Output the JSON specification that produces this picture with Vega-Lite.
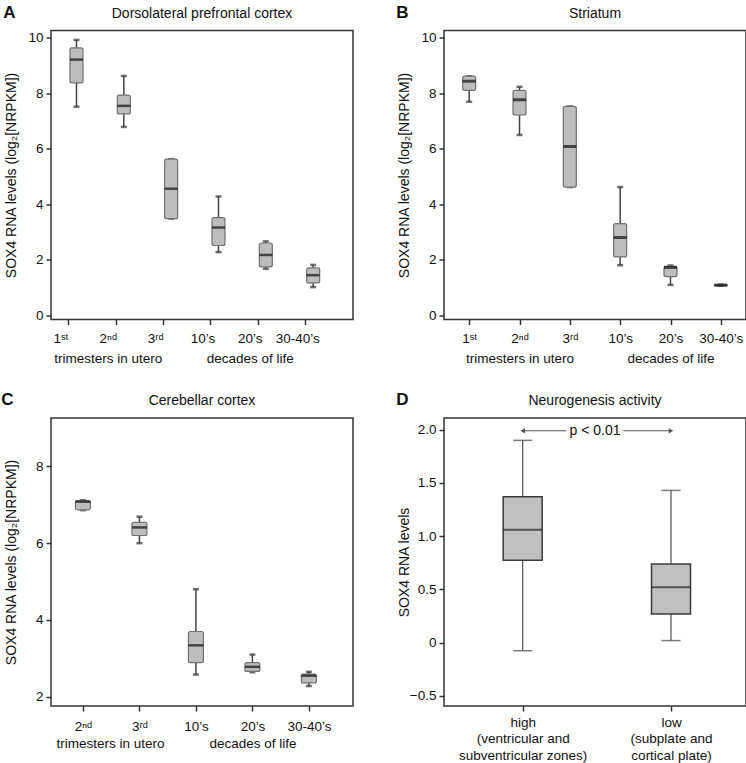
{
  "$schema": "https://vega.github.io/schema/vega-lite/v6.json",
  "background": "white",
  "padding": {"left": 1, "top": 3.5, "right": 0, "bottom": 0},
  "datasets": {
    "boxes": [
      {"panel": "A", "stage": "1st", "min": 7.52, "q1": 8.38, "median": 9.22, "q3": 9.64, "max": 9.93},
      {"panel": "A", "stage": "2nd", "min": 6.79, "q1": 7.26, "median": 7.55, "q3": 7.94, "max": 8.63},
      {"panel": "A", "stage": "3rd", "min": 3.48, "q1": 3.48, "median": 4.56, "q3": 5.63, "max": 5.63},
      {"panel": "A", "stage": "10’s", "min": 2.27, "q1": 2.51, "median": 3.16, "q3": 3.52, "max": 4.28},
      {"panel": "A", "stage": "20’s", "min": 1.67, "q1": 1.74, "median": 2.17, "q3": 2.60, "max": 2.66},
      {"panel": "A", "stage": "30-40’s", "min": 1.01, "q1": 1.16, "median": 1.44, "q3": 1.70, "max": 1.81},
      {"panel": "B", "stage": "1st", "min": 7.70, "q1": 8.11, "median": 8.44, "q3": 8.62, "max": 8.62},
      {"panel": "B", "stage": "2nd", "min": 6.50, "q1": 7.22, "median": 7.77, "q3": 8.11, "max": 8.24},
      {"panel": "B", "stage": "3rd", "min": 4.62, "q1": 4.62, "median": 6.08, "q3": 7.53, "max": 7.53},
      {"panel": "B", "stage": "10’s", "min": 1.80, "q1": 2.10, "median": 2.80, "q3": 3.30, "max": 4.62},
      {"panel": "B", "stage": "20’s", "min": 1.09, "q1": 1.39, "median": 1.72, "q3": 1.76, "max": 1.79},
      {"panel": "B", "stage": "30-40’s", "min": 1.06, "q1": 1.065, "median": 1.08, "q3": 1.095, "max": 1.10},
      {"panel": "C", "stage": "2nd", "min": 6.86, "q1": 6.87, "median": 7.08, "q3": 7.11, "max": 7.12},
      {"panel": "C", "stage": "3rd", "min": 6.00, "q1": 6.20, "median": 6.41, "q3": 6.54, "max": 6.69},
      {"panel": "C", "stage": "10’s", "min": 2.58, "q1": 2.89, "median": 3.34, "q3": 3.70, "max": 4.80},
      {"panel": "C", "stage": "20’s", "min": 2.64, "q1": 2.66, "median": 2.78, "q3": 2.89, "max": 3.10},
      {"panel": "C", "stage": "30-40’s", "min": 2.28, "q1": 2.36, "median": 2.55, "q3": 2.59, "max": 2.65},
      {"panel": "D", "stage": "high", "min": -0.075, "q1": 0.775, "median": 1.06, "q3": 1.37, "max": 1.90},
      {"panel": "D", "stage": "low", "min": 0.02, "q1": 0.27, "median": 0.52, "q3": 0.74, "max": 1.43}
    ]
  },
  "spacing": 25.5,
  "resolve": {"scale": {"x": "independent", "y": "independent"}},
  "vconcat": [
    {
      "spacing": 42,
      "resolve": {"scale": {"x": "independent", "y": "independent"}},
      "hconcat": [
        {
          "title": {"text": "A", "anchor": "start", "frame": "bounds", "fontSize": 17, "fontWeight": "bold", "offset": -16},
          "vconcat": [
            {
              "width": 302, "height": 289,
              "title": {"text": "Dorsolateral prefrontal cortex", "offset": 10},
              "data": {"name": "boxes"},
              "transform": [{"filter": "datum.panel == 'A'"}],
              "encoding": {
                "x": {"field": "stage", "type": "ordinal", "title": null,
                  "scale": {"type": "point", "domain": ["1st", "2nd", "3rd", "10’s", "20’s", "30-40’s"], "padding": 0.69, "align": 0.39},
                  "axis": {"labelPadding": 7, "labelLineHeight": 19.5, "tickOffset": -8, "labelOffset": -8,
                    "labelExpr": "datum.value == '1st' ? '1ˢᵗ' : datum.value == '2nd' ? ['2ⁿᵈ', 'trimesters in utero'] : datum.value == '3rd' ? '3ʳᵈ' : datum.value == '20’s' ? ['20’s', 'decades of life'] : datum.value"}}
              },
              "layer": [
                {"mark": {"type": "rule", "color": "#444", "strokeWidth": 1.5},
                  "encoding": {"y": {"field": "min", "type": "quantitative", "scale": {"domain": [-0.16, 10.27], "nice": false, "zero": false},
                    "axis": {"title": "SOX4 RNA levels (log₂[NRPKM])", "values": [0, 2, 4, 6, 8, 10]}}, "y2": {"field": "max"}}},
                {"mark": {"type": "tick", "color": "#333", "thickness": 2.5, "size": 6}, "encoding": {"y": {"field": "min", "type": "quantitative"}}},
                {"mark": {"type": "tick", "color": "#333", "thickness": 2.5, "size": 6}, "encoding": {"y": {"field": "max", "type": "quantitative"}}},
                {"mark": {"type": "bar", "size": 13, "fill": "#bdbdbd", "stroke": "#707070", "strokeWidth": 1.2, "cornerRadius": 2},
                  "encoding": {"y": {"field": "q1", "type": "quantitative"}, "y2": {"field": "q3"}}},
                {"mark": {"type": "tick", "color": "#111", "thickness": 2.5, "size": 13}, "encoding": {"y": {"field": "median", "type": "quantitative"}}}
              ]
            }
          ]
        },
        {
          "title": {"text": "B", "anchor": "start", "frame": "bounds", "fontSize": 17, "fontWeight": "bold", "offset": -16},
          "vconcat": [
            {
              "width": 302, "height": 289,
              "title": {"text": "Striatum", "offset": 10},
              "data": {"name": "boxes"},
              "transform": [{"filter": "datum.panel == 'B'"}],
              "encoding": {
                "x": {"field": "stage", "type": "ordinal", "title": null,
                  "scale": {"type": "point", "domain": ["1st", "2nd", "3rd", "10’s", "20’s", "30-40’s"], "padding": 0.5, "align": 0.5},
                  "axis": {"labelPadding": 7, "labelLineHeight": 19.5,
                    "labelExpr": "datum.value == '1st' ? '1ˢᵗ' : datum.value == '2nd' ? ['2ⁿᵈ', 'trimesters in utero'] : datum.value == '3rd' ? '3ʳᵈ' : datum.value == '20’s' ? ['20’s', 'decades of life'] : datum.value"}}
              },
              "layer": [
                {"mark": {"type": "rule", "color": "#444", "strokeWidth": 1.5},
                  "encoding": {"y": {"field": "min", "type": "quantitative", "scale": {"domain": [-0.16, 10.27], "nice": false, "zero": false},
                    "axis": {"title": "SOX4 RNA levels (log₂[NRPKM])", "values": [0, 2, 4, 6, 8, 10]}}, "y2": {"field": "max"}}},
                {"mark": {"type": "tick", "color": "#333", "thickness": 2.5, "size": 6}, "encoding": {"y": {"field": "min", "type": "quantitative"}}},
                {"mark": {"type": "tick", "color": "#333", "thickness": 2.5, "size": 6}, "encoding": {"y": {"field": "max", "type": "quantitative"}}},
                {"mark": {"type": "bar", "size": 13, "fill": "#bdbdbd", "stroke": "#707070", "strokeWidth": 1.2, "cornerRadius": 2},
                  "encoding": {"y": {"field": "q1", "type": "quantitative"}, "y2": {"field": "q3"}}},
                {"mark": {"type": "tick", "color": "#111", "thickness": 3, "size": 13}, "encoding": {"y": {"field": "median", "type": "quantitative"}}}
              ]
            }
          ]
        }
      ]
    },
    {
      "spacing": 42,
      "resolve": {"scale": {"x": "independent", "y": "independent"}},
      "hconcat": [
        {
          "title": {"text": "C", "anchor": "start", "frame": "bounds", "fontSize": 17, "fontWeight": "bold", "offset": -16},
          "vconcat": [
            {
              "width": 302, "height": 288,
              "title": {"text": "Cerebellar cortex", "offset": 10},
              "data": {"name": "boxes"},
              "transform": [{"filter": "datum.panel == 'C'"}],
              "encoding": {
                "x": {"field": "stage", "type": "ordinal", "title": null,
                  "scale": {"type": "point", "domain": ["2nd", "3rd", "10’s", "20’s", "30-40’s"], "padding": 0.673, "align": 0.42},
                  "axis": {"labelPadding": 8, "labelLineHeight": 17,
                    "labelExpr": "datum.value == '2nd' ? ['2ⁿᵈ', '\u200b\u2003\u2003\u2003\u2003trimesters in utero'] : datum.value == '3rd' ? '3ʳᵈ' : datum.value == '20’s' ? ['20’s', 'decades of life'] : datum.value"}}
              },
              "layer": [
                {"mark": {"type": "rule", "color": "#444", "strokeWidth": 1.5},
                  "encoding": {"y": {"field": "min", "type": "quantitative", "scale": {"domain": [1.76, 9.26], "nice": false, "zero": false},
                    "axis": {"title": "SOX4 RNA levels (log₂[NRPKM])", "values": [2, 4, 6, 8]}}, "y2": {"field": "max"}}},
                {"mark": {"type": "tick", "color": "#333", "thickness": 2.5, "size": 6}, "encoding": {"y": {"field": "min", "type": "quantitative"}}},
                {"mark": {"type": "tick", "color": "#333", "thickness": 2.5, "size": 6}, "encoding": {"y": {"field": "max", "type": "quantitative"}}},
                {"mark": {"type": "bar", "size": 15, "fill": "#bdbdbd", "stroke": "#707070", "strokeWidth": 1.2, "cornerRadius": 2},
                  "encoding": {"y": {"field": "q1", "type": "quantitative"}, "y2": {"field": "q3"}}},
                {"mark": {"type": "tick", "color": "#111", "thickness": 2.5, "size": 15}, "encoding": {"y": {"field": "median", "type": "quantitative"}}}
              ]
            }
          ]
        },
        {
          "title": {"text": "D", "anchor": "start", "frame": "bounds", "fontSize": 17, "fontWeight": "bold", "offset": -16},
          "vconcat": [
            {
              "width": 302, "height": 288,
              "title": {"text": "Neurogenesis activity", "offset": 10},
              "data": {"name": "boxes"},
              "transform": [{"filter": "datum.panel == 'D'"}],
              "layer": [
                {"mark": {"type": "rule", "color": "#555", "strokeWidth": 1.2},
                  "encoding": {
                    "x": {"field": "stage", "type": "ordinal", "title": null,
                      "scale": {"type": "point", "domain": ["high", "low"], "padding": 0.518, "align": 0.512},
                      "axis": {"labelPadding": 4, "labelLineHeight": 16.5,
                        "labelExpr": "datum.value == 'high' ? ['high', '(ventricular and', 'subventricular zones)'] : ['low', '(subplate and', 'cortical plate)']"}},
                    "y": {"field": "min", "type": "quantitative", "scale": {"domain": [-0.594, 2.11], "nice": false, "zero": false},
                      "axis": {"title": "SOX4 RNA levels", "values": [-0.5, 0, 0.5, 1, 1.5, 2], "labelExpr": "datum.value == 0 ? '0' : format(datum.value, '.1f')"}},
                    "y2": {"field": "max"}}},
                {"mark": {"type": "tick", "color": "#444", "thickness": 1.5, "size": 19},
                  "encoding": {"x": {"field": "stage", "type": "ordinal"}, "y": {"field": "min", "type": "quantitative"}}},
                {"mark": {"type": "tick", "color": "#444", "thickness": 1.5, "size": 19},
                  "encoding": {"x": {"field": "stage", "type": "ordinal"}, "y": {"field": "max", "type": "quantitative"}}},
                {"mark": {"type": "bar", "size": 39, "fill": "#c0c0c0", "stroke": "#3a3a3a", "strokeWidth": 1.5},
                  "encoding": {"x": {"field": "stage", "type": "ordinal"}, "y": {"field": "q1", "type": "quantitative"}, "y2": {"field": "q3"}}},
                {"mark": {"type": "tick", "color": "#222", "thickness": 2, "size": 39},
                  "encoding": {"x": {"field": "stage", "type": "ordinal"}, "y": {"field": "median", "type": "quantitative"}}},
                {"mark": {"type": "line", "color": "#555", "strokeWidth": 1},
                  "encoding": {"x": {"field": "stage", "type": "ordinal"}, "y": {"datum": 1.99}}},
                {"transform": [{"filter": "datum.stage == 'high'"}],
                  "mark": {"type": "text", "text": "p < 0.01", "font": "Liberation Sans", "fontSize": 14, "baseline": "middle", "fill": "white", "stroke": "white", "strokeWidth": 7},
                  "encoding": {"y": {"datum": 1.99}}},
                {"transform": [{"filter": "datum.stage == 'high'"}],
                  "mark": {"type": "text", "text": "p < 0.01", "font": "Liberation Sans", "fontSize": 14, "baseline": "middle", "fill": "#111"},
                  "encoding": {"y": {"datum": 1.99}}},
                {"mark": {"type": "point", "filled": true, "color": "#555", "size": 28, "opacity": 1},
                  "encoding": {"x": {"field": "stage", "type": "ordinal"}, "y": {"datum": 1.99},
                    "shape": {"field": "stage", "type": "nominal", "legend": null, "scale": {"domain": ["high", "low"], "range": ["triangle-left", "triangle-right"]}}}}
              ]
            }
          ]
        }
      ]
    }
  ],
  "config": {
    "font": "Liberation Sans",
    "view": {"stroke": "#333", "strokeWidth": 1.5},
    "axis": {"labelFont": "Liberation Sans", "labelFontSize": 13.5, "labelColor": "#111", "titleFont": "Liberation Sans", "titleFontSize": 14, "titleFontWeight": "normal", "titleColor": "#111", "tickColor": "#333", "tickWidth": 1.5, "tickSize": 5, "domain": false, "grid": false},
    "axisX": {"labelAngle": 0},
    "axisY": {"labelPadding": 3, "minExtent": 23, "maxExtent": 23, "titlePadding": 10},
    "title": {"font": "Liberation Sans", "fontSize": 14, "fontWeight": "normal", "color": "#111"}
  }
}
